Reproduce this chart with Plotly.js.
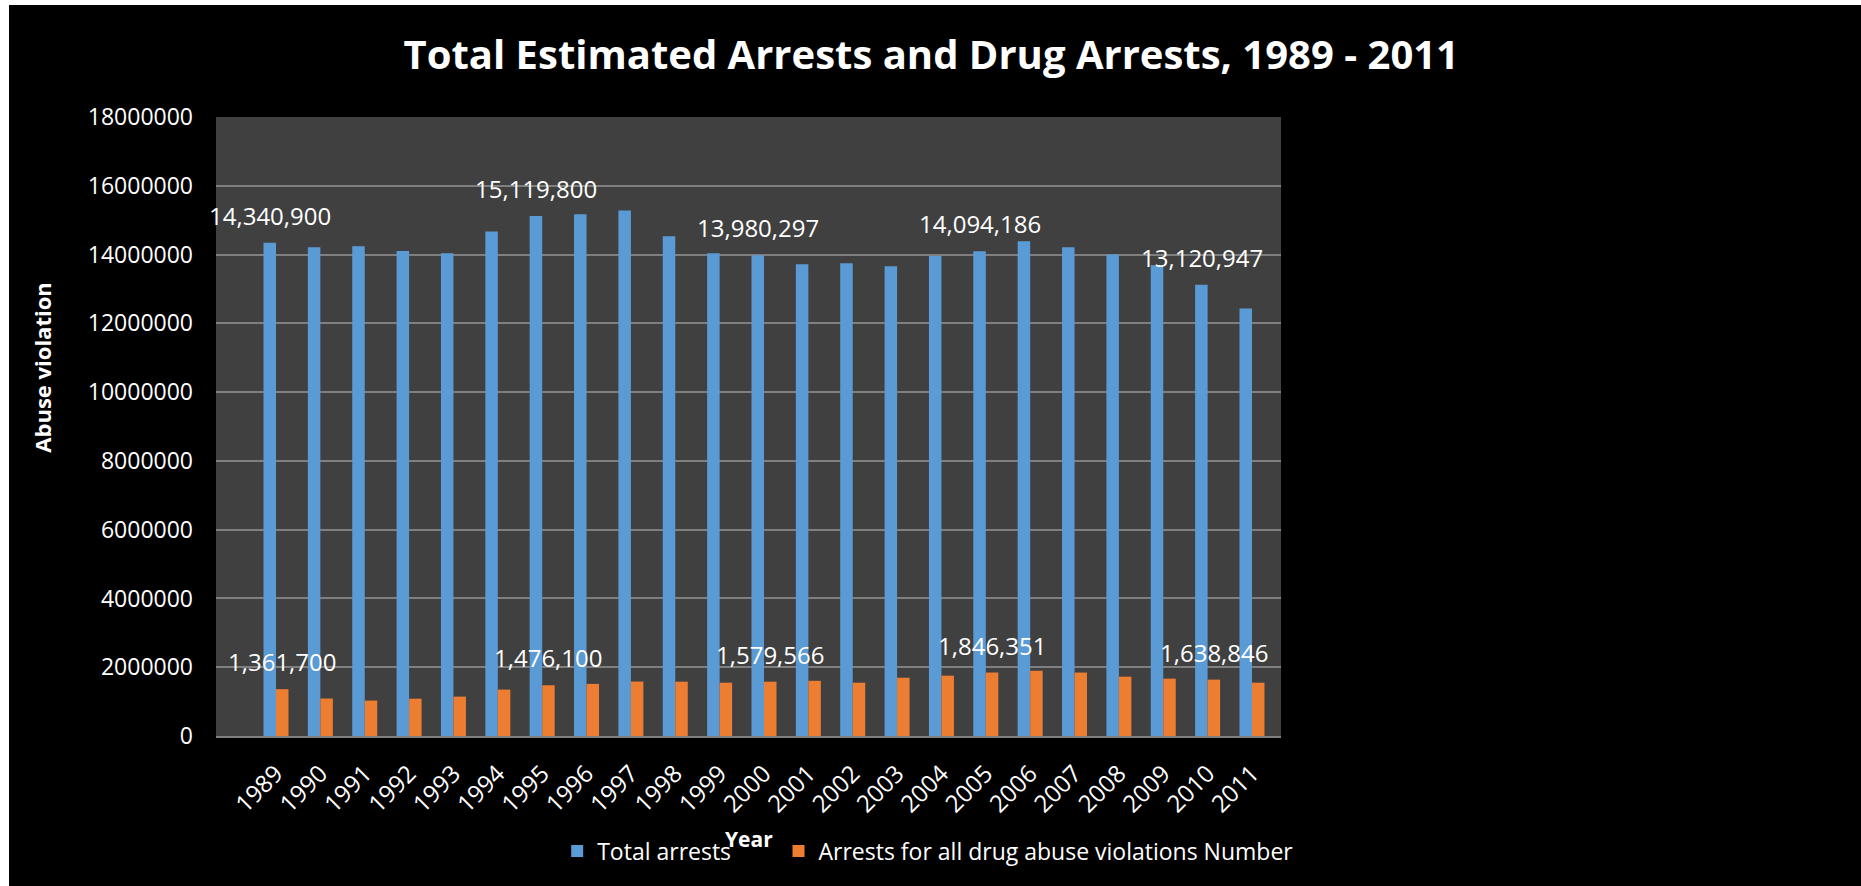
<!DOCTYPE html>
<html>
<head>
<meta charset="utf-8">
<script src="https://cdn.plot.ly/plotly-3.0.1.min.js"></script>
<style>
html, body { margin: 0; padding: 0; background: #ffffff; width: 1861px; height: 886px; overflow: hidden; }
#chart { position: absolute; left: 9px; top: 5px; width: 1852px; height: 881px; }
</style>
</head>
<body>
<div id="chart"></div>
<script>
const years = ['1989','1990','1991','1992','1993','1994','1995','1996','1997','1998','1999','2000',
               '2001','2002','2003','2004','2005','2006','2007','2008','2009','2010','2011'];
const totalArrests = [14340900, 14210000, 14240000, 14100000, 14040000, 14670000, 15119800, 15170000,
                      15280000, 14530000, 14040000, 13980297, 13720000, 13750000, 13660000, 13960000,
                      14094186, 14390000, 14210000, 14000000, 13690000, 13120947, 12430000];
const drugArrests = [1361700, 1090000, 1030000, 1085000, 1145000, 1350000, 1476100, 1515000,
                     1583000, 1580000, 1550000, 1579566, 1605000, 1550000, 1695000, 1755000,
                     1846351, 1900000, 1845000, 1725000, 1668000, 1638846, 1550000];
const labelYears = ['1989', '1995', '2000', '2005', '2010'];
const seriesNames = ['Total arrests', 'Arrests for all drug abuse violations Number'];
const chartTitle = 'Total Estimated Arrests and Drug Arrests, 1989 - 2011';
const xTitle = 'Year';
const yTitle = 'Abuse violation';

const FONT = '"Open Sans", "Noto Sans", sans-serif';
const fmt = v => v.toLocaleString('en-US');

const traces = [
  { type: 'bar', name: seriesNames[0], x: years, y: totalArrests, legend: 'legend',
    marker: { color: '#5b9bd5' }, hoverinfo: 'x+y' },
  { type: 'bar', name: seriesNames[1], x: years, y: drugArrests, legend: 'legend2',
    marker: { color: '#ed7d31' }, hoverinfo: 'x+y' }
];

const annotations = [];
labelYears.forEach(function (yr) {
  const i = years.indexOf(yr);
  annotations.push({ x: i, y: totalArrests[i], xref: 'x', yref: 'y', text: fmt(totalArrests[i]),
    showarrow: false, xanchor: 'center', yanchor: 'bottom', xshift: -6, yshift: 9,
    font: { family: FONT, size: 24, color: '#ffffff' } });
  annotations.push({ x: i, y: drugArrests[i], xref: 'x', yref: 'y', text: fmt(drugArrests[i]),
    showarrow: false, xanchor: 'center', yanchor: 'bottom', xshift: 6, yshift: 9,
    font: { family: FONT, size: 24, color: '#ffffff' } });
});
// axis titles (placed as in the source chart, off-centre from the plot)
annotations.push({ text: '<b>' + yTitle + '</b>', xref: 'paper', yref: 'paper', x: -0.1634, y: 0.595,
  textangle: -90, showarrow: false, xanchor: 'center', yanchor: 'middle',
  font: { family: FONT, size: 22, color: '#ffffff' } });
annotations.push({ text: '<b>' + xTitle + '</b>', xref: 'paper', yref: 'paper', x: 0.5, y: -0.166,
  showarrow: false, xanchor: 'center', yanchor: 'middle',
  font: { family: FONT, size: 21, color: '#ffffff' } });

const legendFont = { family: FONT, size: 23, color: '#ffffff' };
const layout = {
  width: 1852, height: 881,
  paper_bgcolor: '#000000', plot_bgcolor: '#404040',
  margin: { l: 207, r: 580, t: 112, b: 150, pad: 0 },
  font: { family: FONT, color: '#ffffff' },
  title: { text: chartTitle, xref: 'container', yref: 'container', x: 0.498, xanchor: 'center',
           y: 0.943, yanchor: 'middle', font: { family: FONT, size: 40, color: '#ffffff', weight: 700 } },
  barmode: 'group', bargap: 0.4366, bargroupgap: 0,
  xaxis: { type: 'category', range: [-1.3526, 22.654], tickangle: -45, automargin: false,
           tickfont: { family: FONT, size: 24, color: '#ffffff' }, showgrid: false,
           showline: true, linecolor: '#7f7f7f', linewidth: 2, ticks: '', ticklabelstandoff: 12 },
  yaxis: { range: [0, 18000000], tick0: 0, dtick: 2000000, tickformat: 'd', automargin: false,
           tickfont: { family: FONT, size: 23, color: '#ffffff' }, gridcolor: '#7f7f7f', gridwidth: 1.5,
           zeroline: false, showline: false, ticks: '', ticklabelstandoff: 22 },
  legend: { orientation: 'h', xref: 'container', yref: 'container', x: 0.296, xanchor: 'left',
            y: 0.0397, yanchor: 'middle', bgcolor: 'rgba(0,0,0,0)', font: legendFont },
  legend2: { orientation: 'h', xref: 'container', yref: 'container', x: 0.4155, xanchor: 'left',
            y: 0.0397, yanchor: 'middle', bgcolor: 'rgba(0,0,0,0)', font: legendFont },
  annotations: annotations,
  showlegend: true
};

Plotly.newPlot('chart', traces, layout, { displayModeBar: false, responsive: false });
</script>
</body>
</html>
